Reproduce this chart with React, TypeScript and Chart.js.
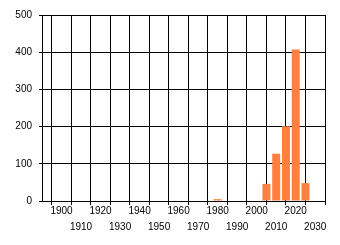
import React, { useEffect, useRef } from "react";
import { Chart, registerables } from "chart.js";

Chart.register(...registerables);

const years = [1980, 2005, 2010, 2015, 2020, 2025];
const counts = [5, 46, 127, 201, 407, 48];
const xTickValues = [1900, 1910, 1920, 1930, 1940, 1950, 1960, 1970, 1980, 1990, 2000, 2010, 2020, 2030];
const yTickValues = [0, 100, 200, 300, 400, 500];

export default function App() {
  const ref = useRef<HTMLCanvasElement | null>(null);

  useEffect(() => {
    document.body.style.margin = "0";
    const canvas = ref.current;
    if (!canvas) return;
    const font = { family: "'Liberation Sans Narrow', 'Liberation Sans', Arial, sans-serif", size: 10, lineHeight: 1.6 };
    const chart = new Chart(canvas, {
      type: "bar",
      data: {
        datasets: [
          {
            data: years.map((y, i) => ({ x: y, y: counts[i] })),
            backgroundColor: "#FF8040",
            borderWidth: 0,
            categoryPercentage: 1,
            barPercentage: 0.82,
          },
        ],
      },
      options: {
        animation: false,
        responsive: false,
        maintainAspectRatio: false,
        layout: { padding: { top: 15, right: 15, left: 0, bottom: 0 } },
        plugins: { legend: { display: false }, tooltip: { enabled: false }, title: { display: false } },
        scales: {
          x: {
            type: "linear",
            min: 1890,
            max: 2035,
            offset: false,
            grid: { color: "#000", lineWidth: 1, tickLength: 4, drawOnChartArea: true },
            border: { color: "#000", width: 1 },
            afterBuildTicks: (scale: any) => {
              scale.ticks = xTickValues.map((v) => ({ value: v }));
            },
            afterFit: (scale: any) => {
              scale.height = 44;
            },
            ticks: {
              autoSkip: false,
              maxRotation: 0,
              minRotation: 0,
              padding: -2,
              color: "#000",
              font,
              callback: (v: any) => {
                const n = Number(v);
                return n % 20 === 10 ? ["", String(n)] : String(n);
              },
            },
          },
          y: {
            min: 0,
            max: 500,
            grid: { color: "#000", lineWidth: 1, tickLength: 3 },
            border: { color: "#000", width: 1 },
            afterBuildTicks: (scale: any) => {
              scale.ticks = yTickValues.map((v) => ({ value: v }));
            },
            afterFit: (scale: any) => {
              scale.width = 42;
            },
            ticks: {
              padding: 7,
              color: "#000",
              font: { ...font, lineHeight: 1.2 },
            },
          },
        },
      },
    });
    return () => chart.destroy();
  }, []);

  return (
    <div style={{ width: 340, height: 245 }}>
      <canvas ref={ref} width={340} height={245} style={{ display: "block", width: 340, height: 245 }} />
    </div>
  );
}
